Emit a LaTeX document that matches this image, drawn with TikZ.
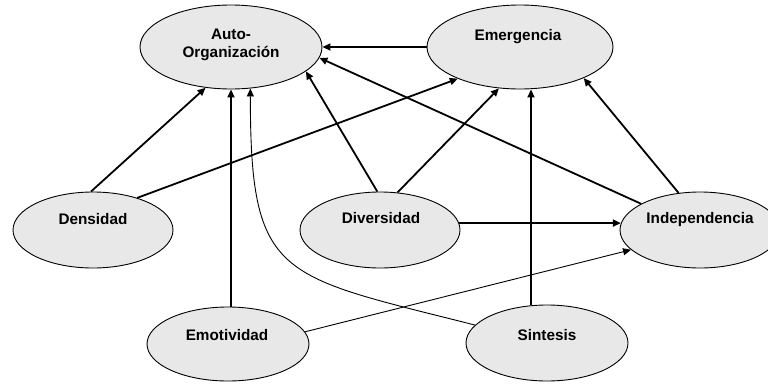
\documentclass[tikz,border=0pt]{standalone}
\usepackage{fontspec}
\setmainfont{Liberation Sans}
\usetikzlibrary{shapes,arrows.meta}
\definecolor{ellgray}{RGB}{232,232,232}

\begin{document}
\begin{tikzpicture}[x=1pt,y=-1pt,
  concept/.style={shape=ellipse,draw=black,fill=ellgray,line width=0.9pt,inner sep=0pt},
  word/.style={align=center,font=\fontsize{15.3}{18}\selectfont\bfseries},
  link/.style={-{Triangle[length=8pt,width=7pt]},draw=black,line width=1.8pt},
  weak/.style={-{Triangle[length=8pt,width=7pt]},draw=black,line width=0.9pt}]
\useasboundingbox (0,0) rectangle (768,383);

\node[concept,minimum width=182pt,minimum height=84pt] (auto) at (231,47) {};
\node[concept,minimum width=186pt,minimum height=84pt] (emer) at (520,47) {};
\node[concept,minimum width=160pt,minimum height=76pt] (dens) at (93,230) {};
\node[concept,minimum width=160pt,minimum height=76pt] (divr) at (380,230) {};
\node[concept,minimum width=160pt,minimum height=76pt] (indep) at (700,230) {};
\node[concept,minimum width=162pt,minimum height=74pt] (emot) at (228,344) {};
\node[concept,minimum width=162pt,minimum height=76pt] (sint) at (547,343) {};

\node[word] (auto-t) at (231,45) {Auto-\\Organización};
\node[word,anchor=base] (emer-t) at (518,40) {Emergencia};
\node[word,anchor=base] (dens-t) at (93,224) {Densidad};
\node[word,anchor=base] (divr-t) at (381,223) {Diversidad};
\node[word,anchor=base] (indep-t) at (700,223) {Independencia};
\node[word,anchor=base] (emot-t) at (227,340) {Emotividad};
\node[word,anchor=base] (sint-t) at (547,340) {Sintesis};

\draw [link] (emer.west) -- (auto.east);
\draw [link] (dens.93) -- (auto.-122);
\draw [link] (dens.36) -- (emer.-153);
\draw [link] (emot.north -| auto.south) -- (auto.south);
\draw [link] (divr.94) -- (auto.-18);
\draw [link] (divr.65) -- (emer.-117);
\draw [link] (indep.156) -- (auto.-7);
\draw [link] (indep.120) -- (emer.-26);
\draw [link] (divr.5) -- (indep.175);
\draw [link] (sint.113) -- (sint.113 |- emer.south);
\draw [weak] (emot.9) -- (indep.-164);
\draw [weak] (sint.166) .. controls +(-197,-50) and +(0,191) .. (auto.-65);
\end{tikzpicture}
\end{document}
